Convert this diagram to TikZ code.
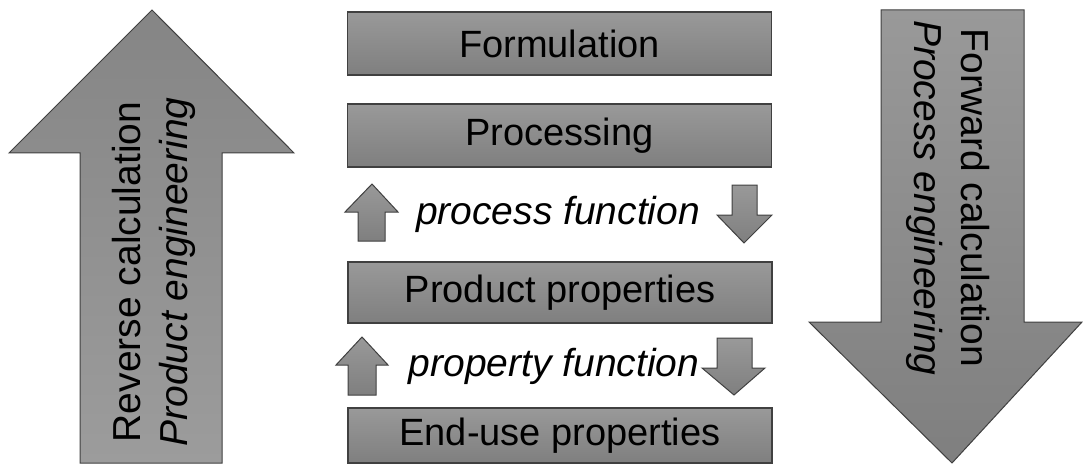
\documentclass[tikz,border=0pt]{standalone}
\usepackage{fontspec}
\setmainfont{Liberation Sans}
\definecolor{edge}{HTML}{404040}
\definecolor{boxtop}{HTML}{999999}
\definecolor{boxbot}{HTML}{7F7F7F}
\definecolor{uptop}{HTML}{858585}
\definecolor{upbot}{HTML}{9C9C9C}
\tikzset{
  stagebox/.style={draw=edge,line width=1.2pt,top color=boxtop,bottom color=boxbot,
    minimum width=424pt,inner sep=0pt,font=\fontsize{38}{40}\selectfont},
  uparrow/.style={draw=edge,line width=1pt,top color=uptop,bottom color=upbot},
  downarrow/.style={draw=edge,line width=1pt,top color=boxtop,bottom color=boxbot},
  bigtext/.style={align=center,font=\fontsize{39}{47}\selectfont},
  fntext/.style={font=\fontsize{39}{41}\selectfont\itshape}
}
\begin{document}
\begin{tikzpicture}[x=1pt,y=-1pt]
  \useasboundingbox (0,0) rectangle (1083,465);

  % big arrows
  \shadedraw[uparrow] (80,463) -- (80,153) -- (9,153) -- (152,10) -- (294,153)
    -- (222,153) -- (222,463) -- cycle;
  \shadedraw[downarrow] (881,10) -- (881,322) -- (809,322) -- (952,463) -- (1082,322)
    -- (1024,322) -- (1024,10) -- cycle;
  \node[bigtext,rotate=90] (reverse) at (154,272)
    {Reverse calculation\\\textit{Product engineering}};
  \node[bigtext,rotate=-90] (forward) at (948,198)
    {Forward calculation\\\textit{Process engineering}};

  % stages
  \node[stagebox,minimum height=63pt] (formulation) at (559.5,43.5) {Formulation};
  \node[stagebox,minimum height=63pt] (processing) at (559.5,135.5) {Processing};
  \node[stagebox,minimum height=61pt] (product) at (560,292.5) {Product properties};
  \node[stagebox,minimum height=55pt] (enduse) at (560,435.5) {End-use properties};

  % small arrows
  \shadedraw[downarrow] (358,241) -- (358,212) -- (345,212) -- (372,184) -- (398,212)
    -- (385,212) -- (385,241) -- cycle;
  \shadedraw[downarrow] (732,185) -- (732,215) -- (717,215) -- (744,243) -- (772,215)
    -- (757,215) -- (757,185) -- cycle;
  \shadedraw[downarrow] (348,395) -- (348,365) -- (336,365) -- (362,337) -- (388,365)
    -- (376,365) -- (376,395) -- cycle;
  \shadedraw[downarrow] (717,338) -- (717,368) -- (702,368) -- (734,395) -- (765,368)
    -- (752,368) -- (752,338) -- cycle;
  \node[fntext] (procfun) at (558,214) {process function};
  \node[fntext] (propfun) at (554,366) {property function};
\end{tikzpicture}
\end{document}
